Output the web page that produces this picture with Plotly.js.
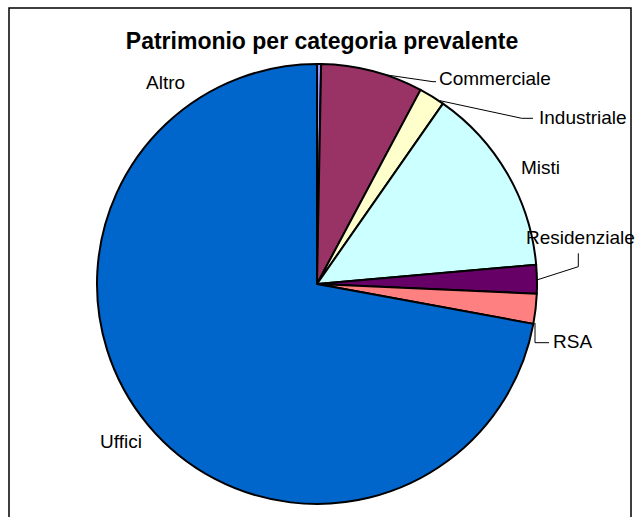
<!DOCTYPE html>
<html>
<head>
<meta charset="utf-8">
<script src="https://cdn.plot.ly/plotly-3.0.1.min.js"></script>
<style>html,body{margin:0;padding:0;background:#fff;}#chart{width:639px;height:517px;}</style>
</head>
<body>
<div id="chart"></div>
<script>
var categories = ["Altro", "Commerciale", "Industriale", "Misti", "Residenziale", "RSA", "Uffici"];
var values = [0.3, 7.5, 1.9, 13.9, 2.1, 2.2, 72.1];
var colors = ["#9999FF", "#993366", "#FFFFCC", "#CCFFFF", "#660066", "#FF8080", "#0066CC"];
var titleText = "Patrimonio per categoria prevalente";

var W = 639, H = 517;
function px(x) { return x / W; }
function py(y) { return 1 - y / H; }

// label centres (pixels)
var labelPos = [
  [166, 82], [495, 78], [583, 117], [540, 167], [580, 237], [572, 341], [121, 441]
];
var annotations = categories.map(function (c, i) {
  return {
    text: c, x: px(labelPos[i][0]), y: py(labelPos[i][1]),
    xref: 'paper', yref: 'paper', showarrow: false,
    xanchor: 'center', yanchor: 'middle',
    font: {family: 'Liberation Sans, Arial, sans-serif', size: 19, color: '#000'}
  };
});

function path(pts) {
  return pts.map(function (p, i) { return (i ? 'L' : 'M') + p[0] + ',' + p[1]; }).join(' ');
}
var leaders = [
  [[387, 75], [433, 81.7], [436, 81.7]],
  [[440, 100.7], [521.7, 118.3], [533, 118.3]],
  [[536.7, 280], [578.3, 266.7], [578.3, 253.3]],
  [[535, 323], [535, 342.7], [549, 342.7]]
];
var shapes = leaders.map(function (l) {
  return {type: 'path', xref: 'paper', yref: 'paper',
    path: path(l.map(function (p) { return [px(p[0]), py(p[1])]; })),
    line: {color: '#000', width: 1}};
});
shapes.push({type: 'rect', xref: 'paper', yref: 'paper',
  x0: px(9), x1: px(631), y0: py(530), y1: py(8),
  line: {color: '#000', width: 1.5}, fillcolor: 'rgba(0,0,0,0)'});

var trace = {
  type: 'pie', labels: categories, values: values, sort: false,
  direction: 'clockwise', rotation: 0,
  marker: {colors: colors, line: {color: '#000', width: 2}},
  textinfo: 'none', hoverinfo: 'label+percent',
  domain: {x: [px(97), px(537)], y: [py(504), py(64)]}
};

var layout = {
  width: W, height: H, margin: {l: 0, r: 0, t: 0, b: 0},
  paper_bgcolor: '#fff', showlegend: false,
  title: {text: '<b>' + titleText + '</b>', x: px(322), xanchor: 'center',
    y: py(41), yref: 'container', yanchor: 'middle',
    font: {family: 'Liberation Sans, Arial, sans-serif', size: 23, color: '#000'}},
  annotations: annotations, shapes: shapes
};
Plotly.newPlot('chart', [trace], layout, {displayModeBar: false, staticPlot: true});
</script>
</body>
</html>
